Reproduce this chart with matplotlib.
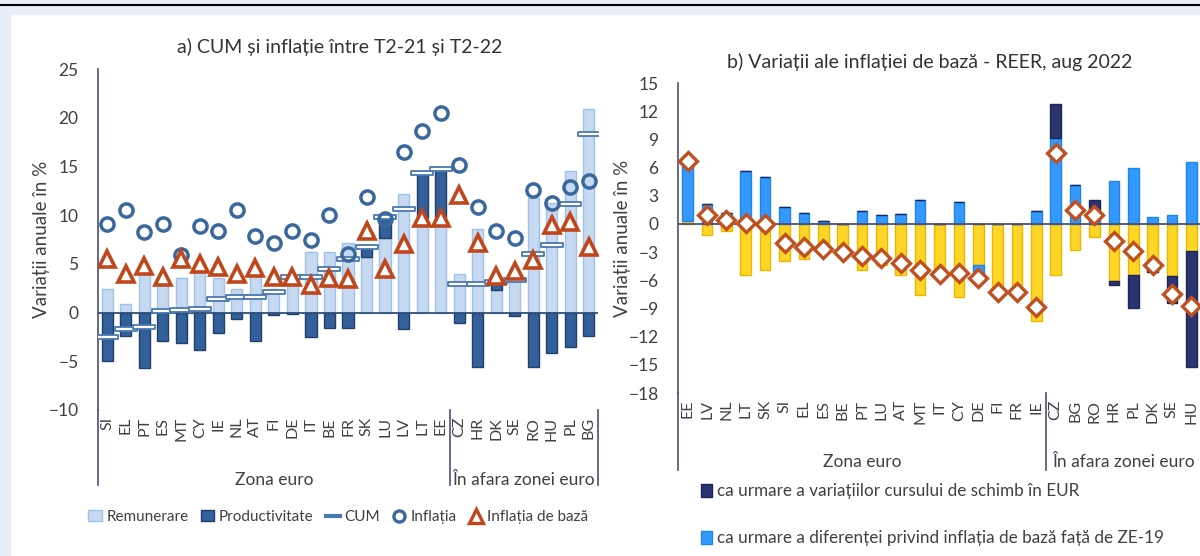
import numpy as np
import matplotlib
matplotlib.use("Agg")
import matplotlib.pyplot as plt
from matplotlib.patches import Patch, Rectangle
from matplotlib.lines import Line2D
from matplotlib.path import Path

plt.rcParams['font.family'] = ['Lato', 'DejaVu Sans']

# ---- panel a) data ----
countries_a = ['SI', 'EL', 'PT', 'ES', 'MT', 'CY', 'IE', 'NL', 'AT', 'FI', 'DE', 'IT', 'BE', 'FR',
               'SK', 'LU', 'LV', 'LT', 'EE', 'CZ', 'HR', 'DK', 'SE', 'RO', 'HU', 'PL', 'BG']
remunerare = [2.4, 0.9, 4.5, 3.3, 3.5, 4.2, 3.5, 2.4, 4.3, 2.4, 3.7, 6.2, 6.2, 7.1,
              5.7, 7.7, 12.2, 9.7, 9.7, 4.0, 8.6, 2.3, 3.5, 11.8, 11.2, 14.5, 20.9]
productivitate = [-5.0, -2.4, -5.7, -2.9, -3.1, -3.8, -2.1, -0.7, -2.9, -0.3, -0.1, -2.5, -1.6, -1.6,
                  1.0, 2.1, -1.7, 4.6, 5.0, -1.1, -5.6, 0.8, -0.4, -5.6, -4.1, -3.5, -2.4]
cum = [-2.5, -1.7, -1.5, 0.2, 0.3, 0.4, 1.4, 1.6, 1.6, 2.1, 3.6, 3.6, 4.5, 5.5,
       6.7, 9.8, 10.6, 14.3, 14.7, 2.95, 2.95, 3.1, 3.3, 6.0, 6.9, 11.1, 18.3]
inflatia = [9.1, 10.5, 8.3, 9.1, 5.9, 8.9, 8.4, 10.5, 7.9, 7.1, 8.4, 7.4, 10.0, 6.0,
            11.9, 9.6, 16.5, 18.6, 20.5, 15.1, 10.8, 8.4, 7.7, 12.6, 11.2, 12.9, 13.5]
inflatia_baza = [5.5, 4.0, 4.8, 3.6, 5.5, 5.0, 4.7, 4.0, 4.6, 3.6, 3.7, 2.8, 3.5, 3.4,
                 8.4, 4.5, 7.0, 9.7, 9.7, 12.1, 7.1, 3.8, 4.3, 5.4, 9.0, 9.3, 6.7]

# ---- panel b) data ----
countries_b = ['EE', 'LV', 'NL', 'LT', 'SK', 'SI', 'EL', 'ES', 'BE', 'PT', 'LU', 'AT', 'MT', 'IT',
               'CY', 'DE', 'FI', 'FR', 'IE', 'CZ', 'BG', 'RO', 'HR', 'PL', 'DK', 'SE', 'HU']
curs_schimb = [0, 0, 0, 0, 0, 0, 0, 0, 0, 0, 0, 0, 0, 0,
               0, 0, 0, 0, 0, 3.7, 0, 1.3, -0.4, -3.5, -0.3, -2.9, -12.35]
dif_baza_ze = [6.4, 2.1, 1.2, 5.6, 5.0, 1.8, 1.2, 0.3, 0, 1.4, 0.9, 1.05, 2.5, 0,
               2.3, -1.4, 0, 0, 1.4, 9.1, 4.1, 1.2, 4.6, 5.9, 0.7, 0.9, 6.6]
alte = [0.3, -1.2, -0.8, -5.4, -4.9, -4.0, -3.7, -2.9, -3.0, -4.9, -4.4, -5.4, -7.6, -5.3,
        -7.8, -4.4, -7.1, -7.1, -10.3, -5.4, -2.8, -1.4, -6.1, -5.4, -4.8, -5.5, -2.85]
reer = [6.7, 1.0, 0.4, 0.1, 0.0, -2.05, -2.5, -2.65, -3.0, -3.4, -3.6, -4.2, -4.9, -5.3,
        -5.25, -5.8, -7.3, -7.3, -8.8, 7.5, 1.5, 1.0, -1.8, -2.85, -4.4, -7.5, -8.7]

n_euro = 19
text_col = '#404040'
fs_tick = 12.5
fs_xtick = 11.5
fs_group = 12.5
fs_title = 14
fs_ylab = 13.5

fig = plt.figure(figsize=(12, 5.56), dpi=100)
fig.patches.append(Rectangle((0, 0), 10 / 1200, 1, transform=fig.transFigure,
                             color='#e8eef7', zorder=-5))
fig.patches.append(Rectangle((0, 1 - 14 / 556), 1, 14 / 556, transform=fig.transFigure,
                             color='#e8eef7', zorder=-5))
fig.add_artist(Line2D([0, 1], [1 - 5 / 556, 1 - 5 / 556], transform=fig.transFigure,
                      color='black', lw=1.5))

cum_marker = Path([(-1, -0.2), (1, -0.2), (1, 0.2), (-1, 0.2), (-1, -0.2)],
                  [Path.MOVETO, Path.LINETO, Path.LINETO, Path.LINETO, Path.CLOSEPOLY])


def group_axis(ax, n, ybot, ylab):
    # multi-level category axis like excel
    for xs in [-0.5, n_euro - 0.5, n - 0.5]:
        ax.plot([xs, xs], [0, ybot], transform=ax.get_xaxis_transform(), clip_on=False,
                color='#4a4f7a', lw=1.2)
    ax.text((n_euro - 1) / 2, ylab, 'Zona euro', transform=ax.get_xaxis_transform(),
            ha='center', va='center', fontsize=fs_group, color=text_col)
    ax.text((n_euro + n - 1) / 2, ylab, 'În afara zonei euro', transform=ax.get_xaxis_transform(),
            ha='center', va='center', fontsize=fs_group, color=text_col)


# ================= panel a =================
ax1 = fig.add_axes([98 / 1200, 1 - 410 / 556, 500 / 1200, 341 / 556])
x = np.arange(len(countries_a))
rem = np.array(remunerare)
prod = np.array(productivitate)
ax1.bar(x, rem, width=0.6, color='#c6d9f1', edgecolor='#9ec2ea', lw=1, zorder=2)
prod_bottom = np.where(prod < 0, 0, rem)
ax1.bar(x, prod, bottom=prod_bottom, width=0.6, color='#33609a', edgecolor='#20406a', lw=1, zorder=2)
ax1.axhline(0, color='#2f4f7a', lw=1.3, zorder=3)
ax1.plot(x, cum, ls='none', marker=cum_marker, ms=16, mfc='white', mec='#4a78b0', mew=1.3, zorder=4)
ax1.plot(x, inflatia, ls='none', marker='o', ms=9.5, mfc='none', mec='#3a679c', mew=2.5, zorder=5)
ax1.plot(x, inflatia_baza, ls='none', marker='^', ms=11, mfc='white', mec='#c0461c', mew=2.6, zorder=6)

ax1.set_xlim(-0.5, len(countries_a) - 0.5)
ax1.set_ylim(-10, 25)
ax1.set_yticks(np.arange(-10, 26, 5))
ax1.set_xticks(x)
ax1.set_xticklabels(countries_a, rotation=90)
ax1.tick_params(axis='both', length=0, labelcolor=text_col)
ax1.tick_params(axis='x', pad=5, labelsize=fs_xtick)
ax1.tick_params(axis='y', pad=14, labelsize=fs_tick)
for s in ['top', 'right', 'bottom']:
    ax1.spines[s].set_visible(False)
ax1.spines['left'].set_color('#4a4f7a')
ax1.spines['left'].set_linewidth(1.2)
ax1.set_ylabel('Variații anuale în %', fontsize=fs_ylab, color=text_col)
ax1.yaxis.set_label_coords(-0.096, 0.5)
group_axis(ax1, len(countries_a), -0.22, -0.205)
fig.text(340 / 1200, 1 - 47 / 556, 'a) CUM și inflație între T2-21 și T2-22', ha='center', va='center',
         fontsize=fs_title, color='#333333')

leg_a = [Patch(facecolor='#c6d9f1', edgecolor='#9ec2ea', label='Remunerare'),
         Patch(facecolor='#33609a', edgecolor='#20406a', label='Productivitate'),
         Line2D([], [], color='#4a78b0', lw=3, label='CUM'),
         Line2D([], [], ls='none', marker='o', ms=8, mfc='none', mec='#3a679c', mew=2.4, label='Inflația'),
         Line2D([], [], ls='none', marker='^', ms=10, mfc='white', mec='#c0461c', mew=2.4,
                label='Inflația de bază')]
fig.legend(handles=leg_a, loc='center', bbox_to_anchor=(338 / 1200, 1 - 517 / 556), ncol=5,
           frameon=False, fontsize=11.0, handlelength=0.9, handletextpad=0.3, columnspacing=0.8,
           labelcolor=text_col)

# ================= panel b =================
ax2 = fig.add_axes([678 / 1200, 1 - 393 / 556, 523 / 1200, 310 / 556])
xb = np.arange(len(countries_b))
pos_base = np.zeros(len(countries_b))
neg_base = np.zeros(len(countries_b))
series_b = [(alte, '#ffd528', '#e8b800'),
            (dif_baza_ze, '#3399ff', '#1f86e6'),
            (curs_schimb, '#2b3470', '#1e2558')]
for vals, fc, ec in series_b:
    v = np.array(vals, dtype=float)
    bottom = np.where(v >= 0, pos_base, neg_base)
    ax2.bar(xb, v, bottom=bottom, width=0.55, color=fc, edgecolor=ec, lw=1, zorder=2)
    pos_base = pos_base + np.where(v > 0, v, 0)
    neg_base = neg_base + np.where(v < 0, v, 0)
ax2.axhline(0, color='#4a4f7a', lw=1.3, zorder=3)
ax2.plot(xb, reer, ls='none', marker='D', ms=9, mfc='white', mec='#c0501f', mew=2.4, zorder=5)

ax2.set_xlim(-0.5, len(countries_b) - 0.5)
ax2.set_ylim(-18, 15)
ax2.set_yticks(np.arange(-18, 16, 3))
ax2.set_xticks(xb)
ax2.set_xticklabels(countries_b, rotation=90)
ax2.tick_params(axis='both', length=0, labelcolor=text_col)
ax2.tick_params(axis='x', pad=5, labelsize=fs_xtick)
ax2.tick_params(axis='y', pad=14, labelsize=fs_tick)
for s in ['top', 'right', 'bottom']:
    ax2.spines[s].set_visible(False)
ax2.spines['left'].set_color('#4a4f7a')
ax2.spines['left'].set_linewidth(1.2)
ax2.set_ylabel('Variații anuale în %', fontsize=fs_ylab, color=text_col)
ax2.yaxis.set_label_coords(-0.09, 0.5)
group_axis(ax2, len(countries_b), -0.248, -0.223)
fig.text(930 / 1200, 1 - 62 / 556, 'b) Variații ale inflației de bază - REER, aug 2022', ha='center',
         va='center', fontsize=fs_title, color='#333333')

leg_b = [Patch(facecolor='#2b3470', edgecolor='#1e2558',
               label='ca urmare a variațiilor cursului de schimb în EUR'),
         Patch(facecolor='#3399ff', edgecolor='#1f86e6',
               label='ca urmare a diferenței privind inflația de bază față de ZE-19')]
fig.legend(handles=leg_b, loc='upper left', bbox_to_anchor=(686 / 1200, 1 - 468 / 556), ncol=1,
           frameon=False, fontsize=12.3, handlelength=0.6, handleheight=0.8, handletextpad=0.3,
           labelspacing=1.8, labelcolor=text_col)

fig.savefig('out.png', dpi=100)
